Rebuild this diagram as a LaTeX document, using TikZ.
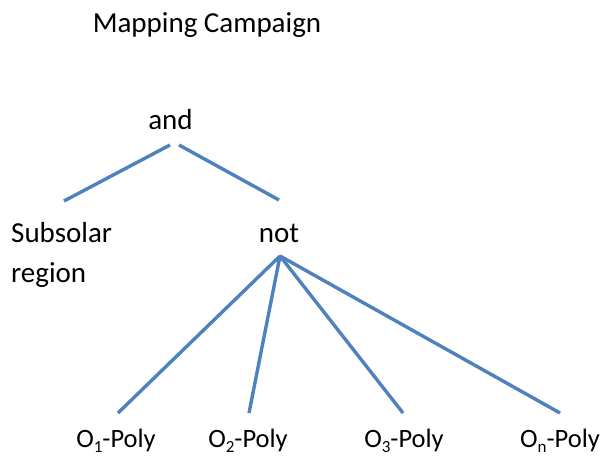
\documentclass[tikz,border=0pt]{standalone}
\usepackage{fontspec}
\setmainfont{Carlito}
\definecolor{linkblue}{RGB}{79,129,189}
\newcommand{\lowidx}[1]{\raisebox{-0.22em}{\fontsize{17}{17}\selectfont #1}}
\begin{document}
\begin{tikzpicture}[x=1pt,y=-1pt,
  lbl/.style={inner sep=0pt,anchor=base,font=\fontsize{29}{35}\selectfont},
  leaf/.style={inner sep=0pt,anchor=base,font=\fontsize{26.5}{32}\selectfont},
  link/.style={draw=linkblue,line width=3.4pt}]
\useasboundingbox (0,0) rectangle (601,457);
% texts
\node[lbl] (title) at (207,33) {Mapping Campaign};
\node[lbl] (and) at (170.5,130) {and};
\node[lbl,anchor=base west] (sub) at (11,242) {Subsolar};
\node[lbl,anchor=base west] (reg) at (11,282) {region};
\node[lbl] (not) at (279,242) {not};
\node[leaf] (o1) at (116,447) {O\lowidx{1}-Poly};
\node[leaf] (o2) at (248,447) {O\lowidx{2}-Poly};
\node[leaf] (o3) at (404,447) {O\lowidx{3}-Poly};
\node[leaf] (on) at (560,447) {O\lowidx{n}-Poly};
% connector end points
\coordinate (andL) at (170,145);
\coordinate (andR) at (179,145);
\coordinate (subT) at (64,201);
\coordinate (notT) at (279,200);
\coordinate (notB) at (280,256);
\coordinate (o1T) at (118,413);
\coordinate (o2T) at (249,413);
\coordinate (o3T) at (403,413);
\coordinate (onT) at (560,413);
% connectors
\draw[link] (andL) -- (subT);
\draw[link] (andR) -- (notT);
\draw[link] (notB) -- (o1T);
\draw[link] (notB) -- (o2T);
\draw[link] (notB) -- (o3T);
\draw[link] (notB) -- (onT);
\end{tikzpicture}
\end{document}
